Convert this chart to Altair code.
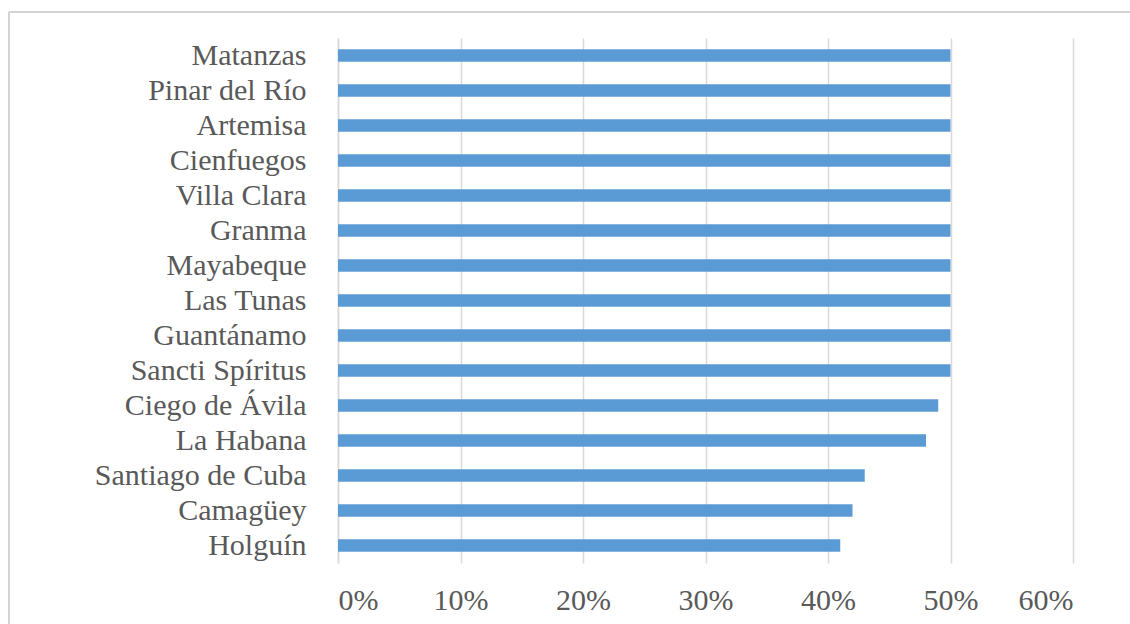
import altair as alt
import pandas as pd

provinces = ["Matanzas", "Pinar del Río", "Artemisa", "Cienfuegos", "Villa Clara",
             "Granma", "Mayabeque", "Las Tunas", "Guantánamo", "Sancti Spíritus",
             "Ciego de Ávila", "La Habana", "Santiago de Cuba ", "Camagüey", "Holguín"]
values = [0.50, 0.50, 0.50, 0.50, 0.50, 0.50, 0.50, 0.50, 0.50, 0.50,
          0.49, 0.48, 0.43, 0.42, 0.41]
x_ticks = [0, 0.1, 0.2, 0.3, 0.4, 0.5, 0.6]

df = pd.DataFrame({"province": provinces, "value": values})

FONT = "Liberation Serif"
GRAY = "#595959"

bars = alt.Chart(df).mark_bar(color="#5B9BD5").encode(
    x=alt.X("value:Q",
            scale=alt.Scale(domain=[0, 0.6], nice=False),
            axis=alt.Axis(values=x_ticks, format=".0%", title=None,
                          domain=False, ticks=False, grid=True,
                          gridColor="#D9D9D9", gridWidth=1.5,
                          labelFont=FONT, labelFontSize=30, labelColor=GRAY,
                          labelPadding=22)),
    y=alt.Y("province:N", sort=provinces,
            scale=alt.Scale(paddingInner=0.64, paddingOuter=0.32),
            axis=alt.Axis(title=None, ticks=False, domain=True,
                          domainColor="#D9D9D9", domainWidth=1.5,
                          labelFont=FONT, labelFontSize=30, labelColor=GRAY,
                          labelPadding=32, labelLimit=400))
)

frame_top = alt.Chart(df).mark_rule(color="#D3D3D3", strokeWidth=2).encode(
    x=alt.value(-329), x2=alt.value(800), y=alt.value(-26)
)
frame_left = alt.Chart(df).mark_rule(color="#D3D3D3", strokeWidth=2).encode(
    x=alt.value(-329), y=alt.value(-26), y2=alt.value(600)
)

chart = alt.layer(bars, frame_top, frame_left).properties(
    width=735, height=525,
    autosize=alt.AutoSizeParams(type="none"),
    padding={"left": 338, "top": 38, "right": 57, "bottom": 61},
    background="white"
).configure_view(stroke=None)

chart.save("out.html", embed_options={"renderer": "svg", "actions": False})
